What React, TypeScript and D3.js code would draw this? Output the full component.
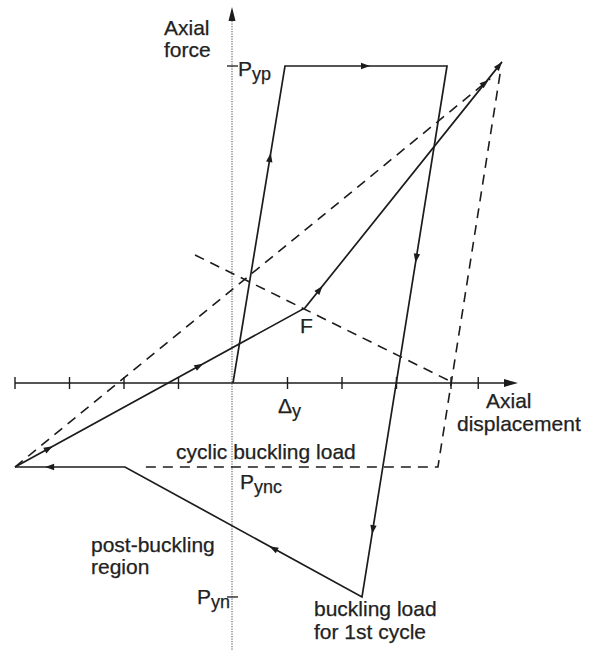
import React from "react";
import * as d3 from "d3";

// Displacement in multiples of the yield displacement, force as a fraction of Pyp
const xTicks = [-4, -3, -2, -1, 1, 2, 3, 4, 4.5];

const PYP = 1;
const PYNC = -0.265;
const PYN = -0.675;

// First cycle: elastic loading, yielding in tension, unloading, buckling, post-buckling
const firstCycle: [number, number][] = [
  [0, 0],
  [0.954, PYP],
  [3.927, PYP],
  [2.367, PYN],
  [-1.982, PYNC],
  [-4, PYNC],
];

// Reloading in tension after the compression excursion
const reloadSolid: [number, number][] = [
  [-4, PYNC],
  [1.321, 0.237],
  [4.936, 1.013],
];

// Later cycle (dashed): reloading and unloading down to the cyclic buckling load
const reloadDashed: [number, number][] = [
  [-4, PYNC],
  [4.72, 0.96],
];
const unloadDashed: [number, number][] = [
  [4.9, 0.975],
  [3.76, PYNC],
  [-1.706, PYNC],
];
const guideDashed: [number, number][] = [
  [-0.697, 0.404],
  [3.98, 0.006],
];

// Direction arrows: segment index along a path and fraction along that segment
const firstCycleArrows = [
  { seg: 0, t: 0.713 },
  { seg: 1, t: 0.5 },
  { seg: 2, t: 0.363 },
  { seg: 2, t: 0.874 },
  { seg: 3, t: 0.376 },
  { seg: 4, t: 0.69 },
];
const reloadArrows = [
  { seg: 0, t: 0.118 },
  { seg: 0, t: 0.637 },
  { seg: 1, t: 0.076 },
  { seg: 1, t: 1 },
];
const dashedArrows = [{ seg: 0, t: 0.99 }];

const W = 590;
const H = 650;
const FONT = "'Liberation Sans', Arial, Helvetica, sans-serif";
const INK = "#1c1c1c";

const x = d3.scaleLinear().domain([0, 1]).range([233, 287.5]);
const y = d3.scaleLinear().domain([0, 1]).range([383, 66]);

const line = d3
  .line<[number, number]>()
  .x((d) => x(d[0]))
  .y((d) => y(d[1]));

function arrowMarks(path: [number, number][], list: { seg: number; t: number }[], size = 1) {
  return list.map((a, i) => {
    const p0 = path[a.seg];
    const p1 = path[a.seg + 1];
    const x0 = x(p0[0]);
    const y0 = y(p0[1]);
    const x1 = x(p1[0]);
    const y1 = y(p1[1]);
    const px = x0 + (x1 - x0) * a.t;
    const py = y0 + (y1 - y0) * a.t;
    const ang = (Math.atan2(y1 - y0, x1 - x0) * 180) / Math.PI;
    const tip = a.t === 1 ? 0 : 4;
    const L = 9 * size;
    const Wd = 3.2 * size;
    return (
      <path
        key={i}
        d={`M${tip},0 L${tip - L},${-Wd} L${tip - L},${Wd} Z`}
        transform={`translate(${px},${py}) rotate(${ang})`}
        fill={INK}
      />
    );
  });
}

export default function App() {
  const axisY = y(0);
  const axisX = x(0);
  const textProps = {
    fontFamily: FONT,
    fontSize: 21,
    fill: "#222",
    stroke: "#222",
    strokeWidth: 0.25,
  };
  return (
    <svg
      width={W}
      height={H}
      viewBox={`0 0 ${W} ${H}`}
      style={{ position: "absolute", left: 0, top: 0, background: "#fff" }}
    >
      <rect width={W} height={H} fill="#fff" />

      {/* vertical axis (dotted) with arrow */}
      <line
        x1={axisX - 1}
        x2={axisX - 1}
        y1={16}
        y2={H}
        stroke="#777"
        strokeWidth={1.3}
        strokeDasharray="1.2 1.3"
      />
      <path
        d={`M${axisX - 1},7 L${axisX - 4.5},21 L${axisX + 2.5},21 Z`}
        fill={INK}
      />
      {[PYP, PYN].map((v, i) => (
        <line
          key={i}
          x1={axisX - 6}
          x2={axisX + 5}
          y1={y(v)}
          y2={y(v)}
          stroke={INK}
          strokeWidth={1.3}
        />
      ))}

      {/* horizontal axis with ticks and arrow */}
      <line x1={x(-4)} x2={512} y1={axisY} y2={axisY} stroke={INK} strokeWidth={1.5} />
      <path d={`M518,${axisY} L504,${axisY - 4} L504,${axisY + 4} Z`} fill={INK} />
      {xTicks.map((t) => (
        <line
          key={t}
          x1={x(t)}
          x2={x(t)}
          y1={axisY - 6}
          y2={axisY + 6}
          stroke={INK}
          strokeWidth={1.4}
        />
      ))}

      {/* dashed paths */}
      <g fill="none" stroke={INK} strokeWidth={1.6} strokeDasharray="10 7">
        <path d={line(reloadDashed) ?? ""} />
        <path d={line(unloadDashed) ?? ""} strokeLinejoin="round" />
        <path d={line(guideDashed) ?? ""} />
      </g>

      {/* solid paths */}
      <g fill="none" stroke={INK} strokeWidth={1.7} strokeLinejoin="miter">
        <path d={line(firstCycle) ?? ""} />
        <path d={line(reloadSolid) ?? ""} />
      </g>

      {arrowMarks(firstCycle, firstCycleArrows)}
      {arrowMarks(reloadSolid, reloadArrows)}
      {arrowMarks(reloadDashed, dashedArrows)}

      {/* labels */}
      <text {...textProps} x={164} y={35}>Axial</text>
      <text {...textProps} x={164} y={57}>force</text>

      <text {...textProps} x={238} y={y(PYP) + 10}>
        P<tspan fontSize={18} dy={4}>yp</tspan>
      </text>

      <text {...textProps} x={278} y={413}>
        Δ<tspan fontSize={18} dy={4}>y</tspan>
      </text>

      <text {...textProps} x={300} y={333}>F</text>

      <text {...textProps} x={486} y={408}>Axial</text>
      <text {...textProps} x={457} y={431}>displacement</text>

      <text {...textProps} x={176} y={459}>cyclic buckling load</text>
      <text {...textProps} x={240} y={489}>
        P<tspan fontSize={18} dy={4}>ync</tspan>
      </text>

      <text {...textProps} x={91} y={552}>post-buckling</text>
      <text {...textProps} x={91} y={574}>region</text>

      <text {...textProps} x={197} y={y(PYN) + 7}>
        P<tspan fontSize={18} dy={4}>yn</tspan>
      </text>

      <text {...textProps} x={314} y={616}>buckling load</text>
      <text {...textProps} x={314} y={639}>for 1st cycle</text>
    </svg>
  );
}
